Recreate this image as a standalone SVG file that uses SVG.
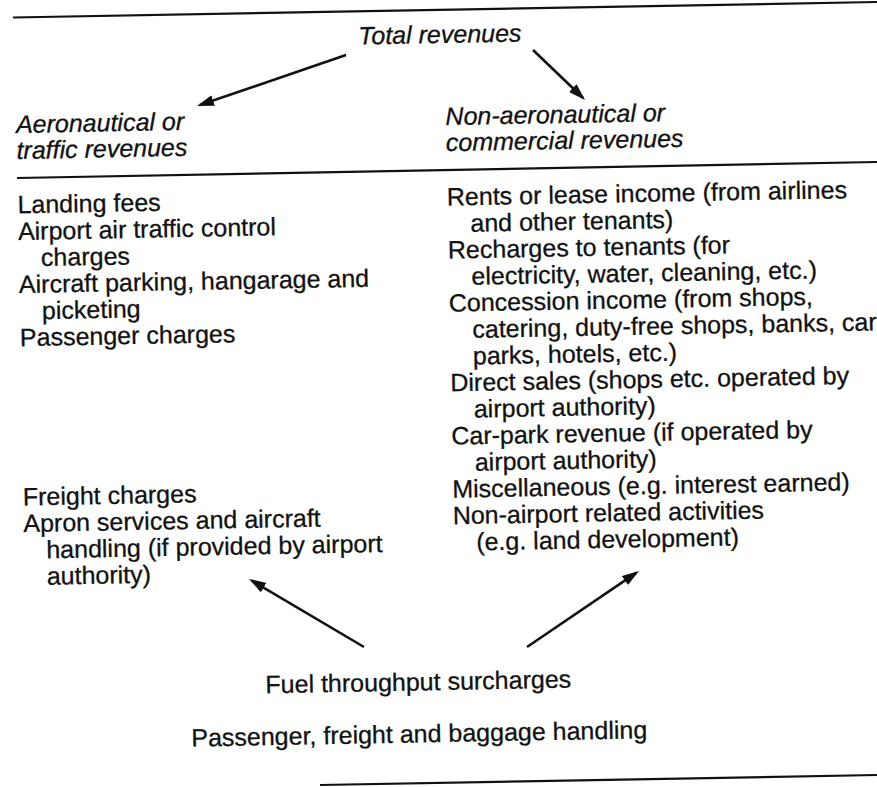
<svg xmlns="http://www.w3.org/2000/svg" width="877" height="787" viewBox="0 0 877 787">
<style>
  text { font-family: "Liberation Sans", Arial, sans-serif; font-size: 25px; fill: #111; stroke: #111; stroke-width: 0.3px; }
  .it { font-style: italic; }
  .mid { text-anchor: middle; }
  .rule { stroke: #111; stroke-width: 2.2; fill: none; }
  .arrow { stroke: #111; stroke-width: 2.6; fill: none; marker-end: url(#head); }
</style>
<defs>
  <marker id="head" markerUnits="userSpaceOnUse" markerWidth="18" markerHeight="12" refX="14" refY="5.5" orient="auto">
    <path d="M0,0 L17,5.5 L0,11 z" fill="#111"/>
  </marker>
</defs>
<rect width="877" height="787" fill="#fff"/>
<g id="rules">
  <line class="rule" x1="13" y1="17.5" x2="877" y2="2"/>
  <line class="rule" x1="17" y1="178" x2="877" y2="162"/>
  <line class="rule" x1="320" y1="785" x2="877" y2="775"/>
</g>
<g id="connectors">
  <line class="arrow" x1="346" y1="55" x2="199.9" y2="105.1"/>
  <line class="arrow" x1="533" y1="50" x2="582.9" y2="97.8"/>
  <line class="arrow" x1="364" y1="647" x2="251.6" y2="580.5"/>
  <line class="arrow" x1="527" y1="647" x2="636.5" y2="572.7"/>
</g>
<g transform="rotate(-1.05 438 393)">
  <g id="total">
    <text class="it mid" x="446.5" y="43">Total revenues</text>
  </g>
  <g id="aeronautical">
    <text class="it" x="21" y="125.3">Aeronautical or</text>
    <text class="it" x="21" y="151.3">traffic revenues</text>
  </g>
  <g id="commercial">
    <text class="it" x="450.5" y="125.3">Non-aeronautical or</text>
    <text class="it" x="450.5" y="151.3">commercial revenues</text>
  </g>
  <g id="aero-items">
    <text x="21" y="205.7">Landing fees</text>
    <text x="21" y="232.3">Airport air traffic control</text>
    <text x="43.5" y="258.8">charges</text>
    <text x="21" y="285.4">Aircraft parking, hangarage and</text>
    <text x="43.5" y="311.9">picketing</text>
    <text x="21" y="338.5">Passenger charges</text>
  </g>
  <g id="aero-items-2">
    <text x="21" y="497.9">Freight charges</text>
    <text x="21" y="524.4">Apron services and aircraft</text>
    <text x="43.5" y="551">handling (if provided by airport</text>
    <text x="43.5" y="577.5">authority)</text>
  </g>
  <g id="commercial-items">
    <text x="450.5" y="205.7">Rents or lease income (from airlines</text>
    <text x="473.5" y="232.3">and other tenants)</text>
    <text x="450.5" y="258.8">Recharges to tenants (for</text>
    <text x="473.5" y="285.4">electricity, water, cleaning, etc.)</text>
    <text x="450.5" y="311.9">Concession income (from shops,</text>
    <text x="473.5" y="338.5">catering, duty-free shops, banks, car</text>
    <text x="473.5" y="365.1">parks, hotels, etc.)</text>
    <text x="450.5" y="391.6">Direct sales (shops etc. operated by</text>
    <text x="473.5" y="418.2">airport authority)</text>
    <text x="450.5" y="444.8">Car-park revenue (if operated by</text>
    <text x="473.5" y="471.3">airport authority)</text>
    <text x="450.5" y="497.9">Miscellaneous (e.g. interest earned)</text>
    <text x="450.5" y="524.4">Non-airport related activities</text>
    <text x="473.5" y="551">(e.g. land development)</text>
  </g>
  <g id="fuel">
    <text class="mid" x="413" y="690">Fuel throughput surcharges</text>
  </g>
  <g id="handling">
    <text class="mid" x="413" y="742">Passenger, freight and baggage handling</text>
  </g>
</g>
</svg>
